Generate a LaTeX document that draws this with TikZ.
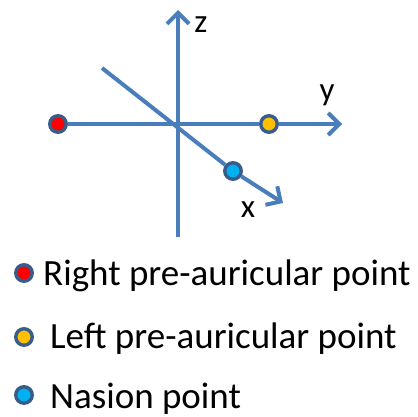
\documentclass[tikz,border=0pt]{standalone}
\usepackage{fontspec}
\setmainfont{Carlito}
\usetikzlibrary{arrows.meta}
\definecolor{AxisBlue}{HTML}{4A7EBB}
\definecolor{RimBlue}{HTML}{385D8A}
\definecolor{DotRed}{HTML}{FF0000}
\definecolor{DotYellow}{HTML}{FFC000}
\definecolor{DotCyan}{HTML}{00B0F0}
\tikzset{
    axis/.style={line width=4pt, draw=AxisBlue, line cap=butt},
    axis_arr/.style={axis, -{Straight Barb[length=11pt, width=22pt, line width=4pt]}},
    dot/.style={circle, draw=RimBlue, line width=3.4pt, minimum size=16.5pt, inner sep=0pt},
    lbl/.style={font=\fontsize{33}{35}\selectfont, anchor=base, inner sep=0pt},
    legtxt/.style={font=\fontsize{37}{40}\selectfont, anchor=base west, inner sep=0pt},
}
\begin{document}
\begin{tikzpicture}[x=1pt, y=-1pt]
\useasboundingbox (0,0) rectangle (417,417);

% Axes
\coordinate (o) at (178,124);
\coordinate (zbot) at (178,237);
\coordinate (ztop) at (178,10);
\coordinate (xbeg) at (102,68);
\coordinate (xtip) at (283,203);
\coordinate (ytip) at (342,124);

\node[dot, fill=DotRed] (rpa) at (58,124) {};
\node[dot, fill=DotYellow] (lpa) at (269,124) {};
\node[dot, fill=DotCyan] (nas) at (233,171) {};

\draw[axis_arr] (zbot) -- (ztop);
\draw[axis] (rpa) -- (lpa);
\draw[axis_arr] (lpa) -- (ytip);
\draw[axis] (xbeg) -- (nas);
\draw[axis_arr] (nas) -- (xtip);

% Axis labels
\node[lbl] (zlab) at (201,33) {z};
\node[lbl] (ylab) at (327,101) {y};
\node[lbl] (xlab) at (248,217) {x};

% Legend
\node[dot, fill=DotRed] (leg_r) at (24,273) {};
\node[dot, fill=DotYellow] (leg_l) at (24,337) {};
\node[dot, fill=DotCyan] (leg_n) at (24,395) {};
\node[legtxt] (txt_r) at (43,285) {Right pre-auricular point};
\node[legtxt] (txt_l) at (50,348) {Left pre-auricular point};
\node[legtxt] (txt_n) at (50,408) {Nasion point};

\end{tikzpicture}
\end{document}
